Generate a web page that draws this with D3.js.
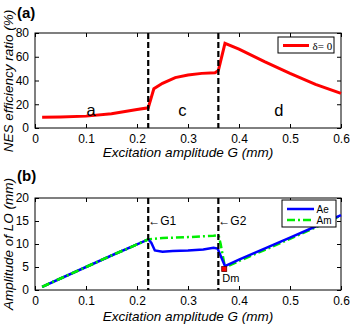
<!DOCTYPE html>
<html><head><meta charset="utf-8">
<script src="https://cdn.jsdelivr.net/npm/d3@7"></script>
<style>body{margin:0;background:#fff}svg{display:block}text{font-family:"Liberation Sans",Arial,sans-serif}</style>
</head><body>
<script>
// ---- data ----
const xTicks = [0, 0.1, 0.2, 0.3, 0.4, 0.5, 0.6];
const yTicksA = [0, 20, 40, 60, 80];
const yTicksB = [0, 5, 10, 15, 20];
const G_eff = [0.014, 0.05, 0.1, 0.15, 0.2, 0.222, 0.233, 0.25, 0.275, 0.3, 0.327, 0.353, 0.3595, 0.3725, 0.4, 0.45, 0.5, 0.55, 0.6];
const eff   = [9.0, 9.3, 10.0, 12.0, 15.5, 17.0, 33.0, 37.6, 42.4, 44.6, 46.0, 46.6, 48.3, 71.3, 66.5, 55.9, 46.0, 36.8, 29.2];
const G_Ae = [0.014, 0.05, 0.1, 0.15, 0.2, 0.222, 0.228, 0.235, 0.25, 0.27, 0.3, 0.33, 0.35, 0.358, 0.3725, 0.4, 0.45, 0.5, 0.55, 0.6];
const Ae   = [0.7, 2.5, 5.0, 7.5, 9.9, 11.0, 10.3, 8.6, 8.3, 8.5, 8.6, 8.8, 9.2, 9.0, 5.2, 6.6, 9.0, 11.4, 13.8, 16.3];
const G_Am = [0.014, 0.05, 0.1, 0.15, 0.2, 0.222, 0.25, 0.3, 0.35, 0.36, 0.364, 0.3725, 0.4, 0.45, 0.5, 0.55, 0.6];
const Am   = [0.7, 2.5, 5.0, 7.5, 9.9, 11.0, 11.3, 11.5, 11.8, 11.9, 10.0, 4.9, 6.3, 8.7, 11.1, 13.6, 16.2];
const boundaries = [0.222, 0.3595];
const Dm = {G: 0.371, v: 4.55};
const regionLabels = [{t: "a", G: 0.11}, {t: "c", G: 0.289}, {t: "d", G: 0.478}];

const svg = d3.select("body").append("svg").attr("width", 350).attr("height", 325);

function panel(top, bottom, yDomain, yTicks) {
  const x = d3.scaleLinear().domain([0, 0.6]).range([35, 341]);
  const y = d3.scaleLinear().domain(yDomain).range([bottom, top]);
  const g = svg.append("g");
  const tl = 4;
  const ax = (axis, tr) => g.append("g").attr("transform", tr).call(axis)
    .call(s => s.select(".domain").remove())
    .call(s => s.selectAll("text").attr("font-size", 12).attr("fill", "#000").style("font-family", "Liberation Sans, Arial, sans-serif"))
    .call(s => s.selectAll("line").attr("stroke", "#000"));
  ax(d3.axisBottom(x).tickValues(xTicks).tickSize(-tl).tickPadding(6).tickFormat(d => d === 0 ? "0" : d3.format(".1f")(d)), `translate(0,${bottom})`);
  ax(d3.axisTop(x).tickValues(xTicks).tickSize(-tl).tickFormat(""), `translate(0,${top})`);
  ax(d3.axisLeft(y).tickValues(yTicks).tickSize(-tl).tickPadding(6), `translate(35,0)`);
  ax(d3.axisRight(y).tickValues(yTicks).tickSize(-tl).tickFormat(""), `translate(341,0)`);
  g.append("rect").attr("x", 35).attr("y", top).attr("width", 306).attr("height", bottom - top)
    .attr("fill", "none").attr("stroke", "#000").attr("stroke-width", 1);
  return {x, y, g};
}

// ---- panel (a) ----
const A = panel(33, 128, [0, 80], yTicksA);
A.g.append("path").datum(G_eff.map((g, i) => [g, eff[i]]))
  .attr("d", d3.line().x(d => A.x(d[0])).y(d => A.y(d[1])))
  .attr("fill", "none").attr("stroke", "#ff0000").attr("stroke-width", 3);
boundaries.forEach(b => A.g.append("line").attr("x1", A.x(b)).attr("x2", A.x(b)).attr("y1", 33).attr("y2", 128)
  .attr("stroke", "#000").attr("stroke-width", 2.2).attr("stroke-dasharray", "6,3"));
regionLabels.forEach(r => A.g.append("text").attr("x", A.x(r.G)).attr("y", 116).attr("text-anchor", "middle")
  .attr("font-size", 16.5).text(r.t));
// legend a
A.g.append("rect").attr("x", 278).attr("y", 37).attr("width", 56).attr("height", 16).attr("fill", "#fff").attr("stroke", "#000");
A.g.append("line").attr("x1", 283).attr("x2", 309).attr("y1", 45.5).attr("y2", 45.5).attr("stroke", "#ff0000").attr("stroke-width", 3);
A.g.append("text").attr("x", 312.5).attr("y", 49.5).attr("font-size", 11).style("font-family", "Liberation Serif, serif").text("δ= 0");

// ---- panel (b) ----
const B = panel(198, 290, [0, 20], yTicksB);
B.g.append("path").datum(G_Am.map((g, i) => [g, Am[i]]))
  .attr("d", d3.line().x(d => B.x(d[0])).y(d => B.y(d[1])))
  .attr("fill", "none").attr("stroke", "#00ee00").attr("stroke-width", 2.5).attr("stroke-dasharray", "8,3,2,3");
B.g.append("path").datum(G_Ae.map((g, i) => [g, Ae[i]]))
  .attr("d", d3.line().x(d => B.x(d[0])).y(d => B.y(d[1])))
  .attr("fill", "none").attr("stroke", "#0000ff").attr("stroke-width", 2.5);
B.g.append("path").datum(G_Am.map((g, i) => [g, Am[i]]).filter(d => d[0] <= 0.222))
  .attr("d", d3.line().x(d => B.x(d[0])).y(d => B.y(d[1])))
  .attr("fill", "none").attr("stroke", "#00ee00").attr("stroke-width", 2.5).attr("stroke-dasharray", "8,3,2,3");
boundaries.forEach(b => B.g.append("line").attr("x1", B.x(b)).attr("x2", B.x(b)).attr("y1", 198).attr("y2", 290)
  .attr("stroke", "#000").attr("stroke-width", 2.2).attr("stroke-dasharray", "6,3"));
B.g.append("rect").attr("x", B.x(Dm.G) - 2.5).attr("y", B.y(Dm.v) - 2.5).attr("width", 5).attr("height", 5)
  .attr("fill", "#ff0000").attr("stroke", "#600").attr("stroke-width", 0.8);
B.g.append("text").attr("x", B.x(Dm.G) - 2).attr("y", 282).attr("font-size", 11).text("Dm");
B.g.append("text").attr("x", B.x(0.222)).attr("y", 225).attr("font-size", 12).text("←G1");
B.g.append("text").attr("x", B.x(0.3595)).attr("y", 225).attr("font-size", 12).text("←G2");
// legend b
B.g.append("rect").attr("x", 282).attr("y", 200).attr("width", 54).attr("height", 27).attr("fill", "#fff").attr("stroke", "#000");
B.g.append("line").attr("x1", 287).attr("x2", 314).attr("y1", 209).attr("y2", 209).attr("stroke", "#0000ff").attr("stroke-width", 2.5);
B.g.append("text").attr("x", 316.5).attr("y", 212.5).attr("font-size", 10).text("Ae");
B.g.append("line").attr("x1", 287).attr("x2", 314).attr("y1", 220).attr("y2", 220).attr("stroke", "#00ee00").attr("stroke-width", 2.5).attr("stroke-dasharray", "8,3,2,3");
B.g.append("text").attr("x", 316.5).attr("y", 223.5).attr("font-size", 10).text("Am");

// ---- labels ----
svg.append("text").attr("x", 17).attr("y", 18).attr("font-size", 15).attr("font-weight", "bold").text("(a)");
svg.append("text").attr("x", 17).attr("y", 181).attr("font-size", 15).attr("font-weight", "bold").text("(b)");
svg.append("text").attr("x", 188).attr("y", 157).attr("text-anchor", "middle").attr("font-size", 13.5).attr("font-style", "italic").text("Excitation amplitude G (mm)");
svg.append("text").attr("x", 188).attr("y", 321).attr("text-anchor", "middle").attr("font-size", 13.5).attr("font-style", "italic").text("Excitation amplitude G (mm)");
svg.append("text").attr("transform", "translate(13,81) rotate(-90)").attr("text-anchor", "middle").attr("font-size", 13.5).attr("font-style", "italic").text("NES efficiency ratio (%)");
svg.append("text").attr("transform", "translate(13,244) rotate(-90)").attr("text-anchor", "middle").attr("font-size", 13.5).attr("font-style", "italic").text("Amplitude of LO (mm)");
</script>
</body></html>
